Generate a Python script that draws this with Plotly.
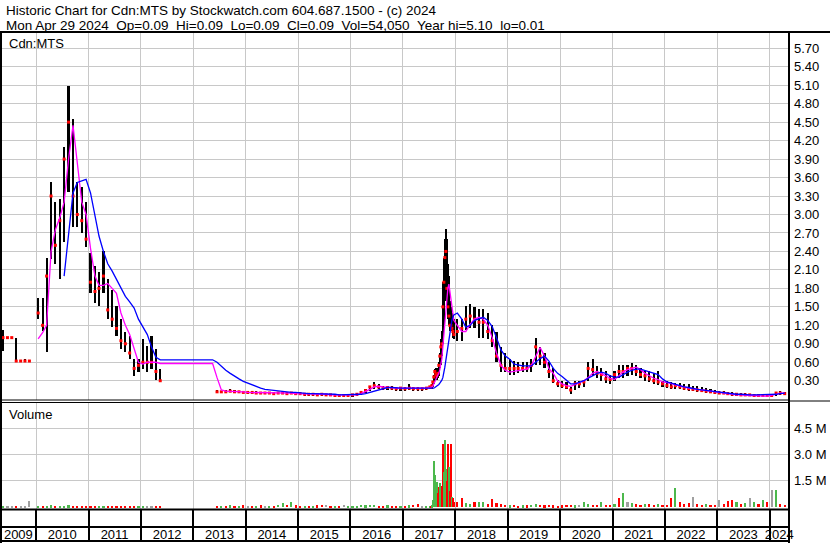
"""Historic price/volume chart for Cdn:MTS in the Stockwatch style.

Price panel: monthly (weekly around the 2017 spike) high-low bars, red closes,
a short (magenta) and long (blue) moving average. Volume panel below, coloured
by up/down/unchanged. Writes out.html.
"""

import pandas as pd
import plotly.graph_objects as go

W, H = 830, 543
FONT = "Liberation Sans, Arial, sans-serif"
GRID = "#c8c8c8"

# ---- data -------------------------------------------------------------------
# monthly points, with a weekly stretch over the 2017 spike
MONTHS_A = pd.date_range("2009-05-01", "2017-06-01", freq="MS") + pd.Timedelta(days=14)
WEEKS_2017 = [
    "2017-07-07", "2017-07-14", "2017-07-21", "2017-07-28", "2017-08-04",
    "2017-08-11", "2017-08-18", "2017-08-25", "2017-09-01", "2017-09-08",
    "2017-09-15", "2017-09-22", "2017-09-29", "2017-10-06", "2017-10-13",
    "2017-10-20", "2017-10-27", "2017-11-03", "2017-11-10", "2017-11-17",
    "2017-11-24", "2017-12-01", "2017-12-08", "2017-12-15", "2017-12-22",
]
MONTHS_B = pd.date_range("2018-01-01", "2024-04-01", freq="MS") + pd.Timedelta(days=14)

N = None
high = [
    1.12, 1.0, 1.0, 1.0, 0.62, 0.65, 0.62, N,                                   # 2009 May-Dec
    1.65, 1.65, 2.3, 3.52, 3.2, 3.25, 4.1, 5.09, 4.55, 3.52, 3.45, 3.2,          # 2010
    2.38, 2.16, 2.06, 2.4, 1.95, 1.78, 1.51, 1.3, 1.09, 1.02, 0.65, 0.65,        # 2011
    0.97, 0.86, 1.02, 0.81, 0.49, N, N, N, N, N, N, N,                           # 2012
    N, N, N, N, N, 0.15, 0.14, 0.15, 0.16, 0.15, 0.14, 0.14,                     # 2013
    0.14, 0.13, 0.13, 0.12, 0.12, 0.12, 0.11, 0.12, 0.12, 0.11, 0.12, 0.11,      # 2014
    0.11, 0.1, 0.1, 0.1, 0.09, 0.1, 0.09, 0.09, 0.08, 0.08, 0.08, 0.08,          # 2015
    0.08, 0.09, 0.12, 0.16, 0.22, 0.28, 0.25, 0.22, 0.22, 0.21, 0.2, 0.2,        # 2016
    0.2, 0.24, 0.2, 0.2, 0.19, 0.2,                                              # 2017 Jan-Jun
    0.22, 0.22, 0.24, 0.3, 0.4, 0.49, 0.5, 0.47, 0.5, 0.6, 0.75, 0.97, 1.1,      # weekly
    1.9, 2.3, 2.6, 2.76, 2.6, 2.2, 2.0, 1.6, 1.5, 1.4, 1.3, 1.3,
    1.3, 1.3, 1.51, 1.55, 1.5, 1.46, 1.46, 1.4, 1.2, 1.09, 0.85, 0.75,           # 2018
    0.65, 0.62, 0.6, 0.6, 0.6, 0.65, 1.0, 0.85, 0.75, 0.6, 0.5, 0.32,            # 2019
    0.3, 0.28, 0.2, 0.3, 0.3, 0.32, 0.6, 0.65, 0.54, 0.5, 0.45, 0.4,             # 2020
    0.45, 0.55, 0.55, 0.55, 0.58, 0.55, 0.5, 0.45, 0.45, 0.42, 0.45, 0.3,        # 2021
    0.3, 0.28, 0.27, 0.26, 0.25, 0.24, 0.22, 0.22, 0.2, 0.18, 0.17, 0.15,        # 2022
    0.14, 0.13, 0.12, 0.12, 0.1, 0.1, 0.1, 0.09, 0.09, 0.08, 0.08, 0.08,         # 2023
    0.07, 0.12, 0.13, 0.12,                                                      # 2024 Jan-Apr
]
low = [
    0.78, 1.0, 1.0, 0.62, 0.62, 0.62, 0.62, N,
    1.3, 1.1, 0.76, 2.27, 2.2, 1.95, 2.55, 3.36, 2.8, 2.8, 2.7, 2.48,
    1.73, 1.57, 1.51, 1.73, 1.3, 1.18, 1.02, 0.81, 0.76, 0.65, 0.37, 0.44,
    0.49, 0.44, 0.49, 0.32, 0.28, N, N, N, N, N, N, N,
    N, N, N, N, N, 0.1, 0.1, 0.1, 0.11, 0.1, 0.1, 0.1,
    0.09, 0.09, 0.09, 0.08, 0.08, 0.08, 0.08, 0.08, 0.08, 0.07, 0.08, 0.07,
    0.07, 0.06, 0.06, 0.06, 0.06, 0.06, 0.05, 0.05, 0.04, 0.04, 0.04, 0.04,
    0.05, 0.06, 0.07, 0.1, 0.14, 0.17, 0.17, 0.15, 0.15, 0.15, 0.14, 0.14,
    0.14, 0.15, 0.14, 0.14, 0.14, 0.15,
    0.17, 0.17, 0.17, 0.2, 0.25, 0.3, 0.34, 0.32, 0.34, 0.38, 0.5, 0.55, 0.7,
    0.9, 1.2, 1.6, 1.9, 1.6, 1.3, 1.2, 1.1, 1.1, 1.1, 1.0, 0.97,
    0.94, 0.94, 1.13, 1.15, 1.15, 1.0, 1.0, 0.97, 0.85, 0.6, 0.44, 0.44,
    0.4, 0.4, 0.42, 0.44, 0.44, 0.44, 0.55, 0.55, 0.5, 0.35, 0.27, 0.2,
    0.18, 0.16, 0.08, 0.15, 0.19, 0.2, 0.3, 0.37, 0.35, 0.3, 0.27, 0.25,
    0.3, 0.35, 0.35, 0.37, 0.4, 0.38, 0.35, 0.3, 0.28, 0.25, 0.23, 0.2,
    0.18, 0.17, 0.16, 0.16, 0.15, 0.14, 0.13, 0.12, 0.11, 0.1, 0.1, 0.09,
    0.08, 0.08, 0.07, 0.06, 0.06, 0.05, 0.05, 0.05, 0.05, 0.05, 0.04, 0.04,
    0.04, 0.05, 0.07, 0.08,
]
close = [
    1.0, 1.0, 1.0, 0.62, 0.62, 0.62, 0.62, N,
    1.4, 1.2, 2.0, 3.3, 2.5, 2.9, 3.9, 4.5, 3.3, 3.0, 2.9, 2.6,
    1.9, 1.75, 1.8, 2.0, 1.45, 1.3, 1.15, 0.95, 0.9, 0.75, 0.5, 0.55,
    0.6, 0.6, 0.6, 0.45, 0.3, N, N, N, N, N, N, N,
    N, N, N, N, N, 0.12, 0.12, 0.12, 0.13, 0.12, 0.12, 0.11,
    0.11, 0.11, 0.1, 0.1, 0.1, 0.1, 0.09, 0.1, 0.1, 0.09, 0.1, 0.09,
    0.09, 0.08, 0.08, 0.08, 0.07, 0.08, 0.07, 0.07, 0.06, 0.06, 0.06, 0.06,
    0.07, 0.08, 0.11, 0.14, 0.2, 0.22, 0.2, 0.18, 0.19, 0.18, 0.17, 0.18,
    0.17, 0.18, 0.17, 0.17, 0.17, 0.18,
    0.2, 0.19, 0.22, 0.28, 0.36, 0.45, 0.4, 0.38, 0.42, 0.55, 0.7, 0.85, 0.9,
    1.5, 1.9, 2.3, 2.4, 1.8, 1.5, 1.35, 1.2, 1.2, 1.15, 1.1, 1.05,
    1.1, 1.15, 1.3, 1.35, 1.3, 1.25, 1.25, 1.1, 0.95, 0.7, 0.55, 0.5,
    0.5, 0.5, 0.5, 0.5, 0.5, 0.55, 0.85, 0.7, 0.6, 0.45, 0.3, 0.25,
    0.22, 0.2, 0.15, 0.25, 0.25, 0.28, 0.5, 0.48, 0.42, 0.4, 0.33, 0.32,
    0.4, 0.45, 0.45, 0.5, 0.5, 0.45, 0.4, 0.38, 0.33, 0.3, 0.28, 0.25,
    0.22, 0.2, 0.22, 0.2, 0.18, 0.17, 0.16, 0.15, 0.14, 0.13, 0.12, 0.11,
    0.1, 0.1, 0.09, 0.08, 0.08, 0.07, 0.07, 0.07, 0.06, 0.06, 0.06, 0.06,
    0.06, 0.1, 0.1, 0.09,
]
ma_short = [
    N, N, N, N, N, N, N, N,
    0.98, 1.08, 1.2, 2.4, 2.75, 2.95, 3.2, 3.9, 4.45, 3.85, 3.2, 3.0,
    2.45, 2.0, 1.85, 1.85, 1.88, 1.8, 1.72, 1.4, 1.2, 1.05, 0.82, 0.6,
    0.57, 0.6, 0.6, 0.6, 0.58, 0.58, 0.58, 0.58, 0.58, 0.58, 0.58, 0.58,
    0.58, 0.58, 0.58, 0.58, 0.58, 0.35, 0.15, 0.13, 0.13, 0.12, 0.12, 0.12,
    0.11, 0.11, 0.11, 0.1, 0.1, 0.1, 0.1, 0.1, 0.1, 0.1, 0.1, 0.09,
    0.09, 0.09, 0.08, 0.08, 0.08, 0.08, 0.08, 0.07, 0.07, 0.06, 0.06, 0.06,
    0.06, 0.07, 0.09, 0.12, 0.16, 0.2, 0.21, 0.2, 0.19, 0.18, 0.18, 0.18,
    0.18, 0.18, 0.18, 0.17, 0.17, 0.18,
    0.19, 0.19, 0.2, 0.21, 0.24, 0.28, 0.32, 0.36, 0.39, 0.42, 0.48, 0.56, 0.66,
    0.85, 1.05, 1.3, 1.5, 1.68, 1.8, 1.87, 1.75, 1.6, 1.45, 1.35, 1.28,
    1.2, 1.1, 1.1, 1.22, 1.3, 1.33, 1.3, 1.2, 1.0, 0.75, 0.55, 0.47,
    0.44, 0.45, 0.47, 0.48, 0.49, 0.55, 0.7, 0.84, 0.7, 0.5, 0.42, 0.3,
    0.25, 0.22, 0.21, 0.24, 0.27, 0.3, 0.35, 0.42, 0.45, 0.42, 0.38, 0.34,
    0.32, 0.38, 0.44, 0.48, 0.5, 0.52, 0.48, 0.42, 0.38, 0.34, 0.32, 0.28,
    0.27, 0.25, 0.23, 0.22, 0.2, 0.18, 0.17, 0.16, 0.15, 0.13, 0.12, 0.11,
    0.1, 0.09, 0.08, 0.08, 0.07, 0.07, 0.06, 0.06, 0.06, 0.05, 0.05, 0.05,
    0.06, 0.08, 0.1, 0.1,
]
ma_long = [
    N, N, N, N, N, N, N, N,
    N, N, N, N, N, N, 2.0, 2.7, 3.35, 3.52, 3.54, 3.57,
    3.35, 2.95, 2.65, 2.4, 2.2, 2.08, 1.95, 1.8, 1.67, 1.58, 1.48, 1.3,
    1.18, 1.05, 0.85, 0.68, 0.64, 0.64, 0.64, 0.64, 0.64, 0.64, 0.64, 0.64,
    0.64, 0.64, 0.64, 0.64, 0.64, 0.6, 0.53, 0.47, 0.42, 0.37, 0.33, 0.29,
    0.26, 0.23, 0.2, 0.18, 0.16, 0.15, 0.14, 0.13, 0.12, 0.12, 0.11, 0.11,
    0.1, 0.1, 0.09, 0.09, 0.09, 0.08, 0.08, 0.08, 0.08, 0.07, 0.07, 0.07,
    0.07, 0.07, 0.08, 0.09, 0.11, 0.14, 0.16, 0.18, 0.19, 0.19, 0.18, 0.18,
    0.18, 0.18, 0.18, 0.17, 0.17, 0.17,
    0.17, 0.17, 0.17, 0.17, 0.18, 0.19, 0.2, 0.21, 0.22, 0.24, 0.26, 0.28, 0.31,
    0.35, 0.42, 0.52, 0.63, 0.75, 0.88, 1.0, 1.1, 1.2, 1.28, 1.33, 1.37,
    1.4, 1.3, 1.17, 1.2, 1.28, 1.3, 1.33, 1.28, 1.18, 1.0, 0.8, 0.7,
    0.65, 0.57, 0.55, 0.54, 0.54, 0.54, 0.6, 0.66, 0.7, 0.62, 0.5, 0.42,
    0.37, 0.3, 0.25, 0.25, 0.27, 0.3, 0.34, 0.38, 0.42, 0.44, 0.42, 0.38,
    0.36, 0.36, 0.4, 0.44, 0.47, 0.49, 0.49, 0.47, 0.45, 0.42, 0.4, 0.33,
    0.28, 0.26, 0.24, 0.22, 0.2, 0.19, 0.17, 0.16, 0.15, 0.14, 0.13, 0.12,
    0.11, 0.1, 0.09, 0.09, 0.08, 0.08, 0.07, 0.07, 0.07, 0.07, 0.07, 0.07,
    0.07, 0.08, 0.09, 0.1,
]
# volume in millions of shares
volume_m = [
    0.08, 0.03, 0.03, 0.05, 0.03, 0.03, 0.36, N,
    0.06, 0.05, 0.08, 0.1, 0.06, 0.05, 0.07, 0.1, 0.08, 0.05, 0.05, 0.04,
    0.05, 0.04, 0.05, 0.06, 0.05, 0.04, 0.04, 0.05, 0.04, 0.04, 0.06, 0.05,
    0.05, 0.04, 0.05, 0.04, 0.03, N, N, N, N, N, N, N,
    N, N, N, N, N, 0.08, 0.06, 0.07, 0.1, 0.08, 0.06, 0.1,
    0.06, 0.05, 0.08, 0.1, 0.06, 0.05, 0.07, 0.12, 0.26, 0.15, 0.28, 0.1,
    0.06, 0.05, 0.08, 0.06, 0.1, 0.15, 0.12, 0.06, 0.05, 0.08, 0.12, 0.06,
    0.06, 0.08, 0.12, 0.1, 0.15, 0.12, 0.08, 0.06, 0.1, 0.07, 0.05, 0.08,
    0.08, 0.1, 0.15, 0.2, 0.08, 0.06,
    0.05, 0.06, 0.1, 0.4, 2.64, 1.85, 1.0, 1.46, 0.8, 1.17, 1.38, 1.0, 1.2,
    3.6, 2.0, 3.84, 2.2, 1.5, 3.6, 2.3, 0.9, 3.6, 0.6, 0.5, 0.3,
    0.3, 0.5, 0.25, 0.2, 0.3, 0.3, 0.3, 0.2, 0.45, 0.25, 0.2, 0.15,
    0.1, 0.12, 0.08, 0.1, 0.1, 0.12, 0.2, 0.15, 0.1, 0.12, 0.1, 0.08,
    0.1, 0.15, 0.12, 0.1, 0.15, 0.3, 0.2, 0.15, 0.12, 0.28, 0.15, 0.12,
    0.2, 0.55, 0.82, 0.3, 0.25, 0.2, 0.15, 0.18, 0.2, 0.15, 0.2, 0.12,
    0.15, 0.5, 1.1, 0.3, 0.2, 0.25, 0.6, 0.2, 0.15, 0.2, 0.15, 0.12,
    0.4, 0.2, 0.35, 0.4, 0.3, 0.2, 0.25, 0.5, 0.3, 0.2, 0.42, 0.3,
    0.99, 0.99, 0.2, 0.15,
]
# direction of each period: u up, d down, n unchanged
direction = list("".join([
    "unndnnnn",                       # 2009 May-Dec
    "uduuduuudddd",                   # 2010
    "dduudddddddu",                   # 2011
    "unnddnnnnnnn",                   # 2012
    "nnnnndududud",                   # 2013
    "ndudnuduudud",                   # 2014
    "dududdndudnu",                   # 2015
    "uuuuuudduddu",                   # 2016
    "duddnu",                         # 2017 Jan-Jun
    "uduuuuuudduuddu" "uudduddudd",   # weekly
    "dduuduuddddd",                   # 2018
    "udduduuddddd",                   # 2019
    "dddunuuddudd",                   # 2020
    "udunudduddud",                   # 2021
    "ddudddnddudd",                   # 2022
    "ndddudunudud",                   # 2023
    "nudd",                           # 2024
]))

YEARS = [str(y) for y in range(2009, 2025)]
YEAR_STARTS = [f"{y}-01-01" for y in range(2010, 2025)]
# label sits in the middle of the visible part of each year
YEAR_LABEL_AT = ["2009-08-30"] + [f"{y}-07-02" for y in range(2010, 2024)] + ["2024-03-08"]

PRICE_TICKS = [round(0.3 * k, 2) for k in range(1, 20)]
VOL_TICKS = [1.5e6, 3.0e6, 4.5e6]
VOL_LABELS = ["1.5 M", "3.0 M", "4.5 M"]

SP2 = "\u00a0\u00a0"  # double space that survives svg whitespace collapsing
TITLE_1 = "Historic Chart for Cdn:MTS by Stockwatch.com 604.687.1500 - (c) 2024"
TITLE_2 = SP2.join(["Mon Apr 29 2024", "Op=0.09", "Hi=0.09", "Lo=0.09", "Cl=0.09",
                    "Vol=54,050", "Year hi=5.10", "lo=0.01"])


def px(x):
    return x / W


def py(y):
    return 1 - y / H


def main():
    dates = pd.DatetimeIndex(list(MONTHS_A) + list(pd.to_datetime(WEEKS_2017)) + list(MONTHS_B))
    cols = dict(high=high, low=low, close=close, ma_s=ma_short, ma_l=ma_long,
                vol=volume_m, dir=direction)
    for k, v in cols.items():
        if len(v) != len(dates):
            print(f"length mismatch: {k} has {len(v)}, dates {len(dates)}")
            return 1
    df = pd.DataFrame(dict(date=dates, **cols))
    df["rng"] = df.high - df.low

    # bar width: about half the gap to the nearest neighbour, never under a week
    s = df.date.astype("int64") // 10**6
    gap = pd.concat([s.diff().bfill(), s.diff(-1).abs().ffill()], axis=1).min(axis=1)
    width = (gap * 0.5).clip(lower=7 * 86400000)

    vol_colors = df.dir.map({"u": "#4cb84c", "d": "#ff0000", "n": "#a0a0a0"})

    fig = go.Figure()
    fig.add_bar(x=df.date, base=df.low, y=df.rng, width=width, marker_color="black",
                marker_line_width=0, xaxis="x", yaxis="y")
    fig.add_scatter(x=df.date, y=df.close, mode="markers",
                    marker=dict(symbol="square", size=3, color="#ff0000", line_width=0),
                    xaxis="x", yaxis="y")
    fig.add_scatter(x=df.date, y=df.ma_s, mode="lines", line=dict(color="#ff00ff", width=1.3),
                    xaxis="x", yaxis="y")
    fig.add_scatter(x=df.date, y=df.ma_l, mode="lines", line=dict(color="#0000ff", width=1.3),
                    xaxis="x", yaxis="y")
    fig.add_bar(x=df.date, y=df.vol * 1e6, width=width, marker_color=vol_colors,
                marker_line_width=0, xaxis="x2", yaxis="y2")
    # empty trace so the year strip subplot (x3/y3) gets drawn
    fig.add_scatter(x=[], y=[], xaxis="x3", yaxis="y3")

    xr = ["2009-05-01", "2024-05-15"]
    tick_font = dict(family=FONT, size=13, color="black")
    xgrid = dict(type="date", range=xr, domain=[px(1), px(789)], tickmode="array",
                 tickvals=YEAR_STARTS, showticklabels=False, showgrid=True, gridcolor=GRID,
                 gridwidth=1, zeroline=False, ticks="", showline=False, fixedrange=True,
                 automargin=False)
    yright = dict(side="right", tickmode="array", showgrid=True, gridcolor=GRID,
                  zeroline=False, ticks="", ticklen=0, ticklabelstandoff=4,
                  tickfont=tick_font, fixedrange=True, automargin=False)

    thick = dict(color="black", width=2)
    thin = dict(color="black", width=1)

    def hline(y, x0, x1, line):
        return dict(type="line", xref="paper", yref="paper", x0=px(x0), x1=px(x1),
                    y0=py(y), y1=py(y), line=line)

    def vline(x, y0, y1, line):
        return dict(type="line", xref="paper", yref="paper", x0=px(x), x1=px(x),
                    y0=py(y0), y1=py(y1), line=line)

    shapes = [
        hline(32, 0, W, thick),
        vline(1, 32, H, thick),
        vline(789, 32, H, thick),
        hline(400, 0, 789, thin),
        hline(402.5, 0, 789, thin),
        hline(401, 789, W, thin),
        hline(509.5, 0, 789, thick),
        hline(527, 0, 789, thick),
        hline(541, 0, 789, thick),
    ]

    def label(text, x, y, size=13):
        return dict(text=text, x=px(x), y=py(y), xref="paper", yref="paper", xanchor="left",
                    yanchor="top", showarrow=False,
                    font=dict(family=FONT, size=size, color="black"))

    fig.update_layout(
        width=W, height=H, margin=dict(l=0, r=0, t=0, b=0, autoexpand=False),
        paper_bgcolor="white", plot_bgcolor="white", showlegend=False,
        bargap=0, font=dict(family=FONT, size=13, color="black"),
        xaxis=dict(xgrid, anchor="y"),
        xaxis2=dict(xgrid, anchor="y2"),
        xaxis3=dict(type="date", range=xr, domain=[px(1), px(789)], anchor="y3",
                    tickmode="array", tickvals=YEAR_LABEL_AT, ticktext=YEARS,
                    ticklabelposition="inside", ticklabeloverflow="allow",
                    ticklabelstandoff=-4, ticks="",
                    showgrid=False, zeroline=False, showline=False, tickfont=tick_font,
                    minor=dict(tickmode="array", tickvals=YEAR_STARTS, showgrid=True,
                               gridcolor="black", gridwidth=1.5, ticks=""),
                    fixedrange=True, automargin=False),
        yaxis=dict(yright, domain=[py(400), py(33)], range=[-0.013, 5.948], anchor="x",
                   tickvals=PRICE_TICKS, ticktext=[f"{v:.2f}" for v in PRICE_TICKS]),
        yaxis2=dict(yright, domain=[py(509), py(402)], range=[-0.1e6, 6.0e6], anchor="x2",
                    tickvals=VOL_TICKS, ticktext=VOL_LABELS),
        yaxis3=dict(domain=[py(541), py(509)], range=[0, 1], anchor="x3", showgrid=False,
                    showticklabels=False, zeroline=False, ticks="", fixedrange=True,
                    automargin=False),
        shapes=shapes,
        annotations=[
            label(TITLE_1, 4, 1, 13.5),
            label(TITLE_2, 4, 16, 13.5),
            label("Cdn:MTS", 7, 34),
            label("Volume", 7, 405),
        ],
    )
    # the page's default body margin would push the figure 8px off the window
    fig.write_html("out.html", config={"displayModeBar": False},
                   post_script="document.body.style.margin='0';")
    return 0


if __name__ == "__main__":
    main()
